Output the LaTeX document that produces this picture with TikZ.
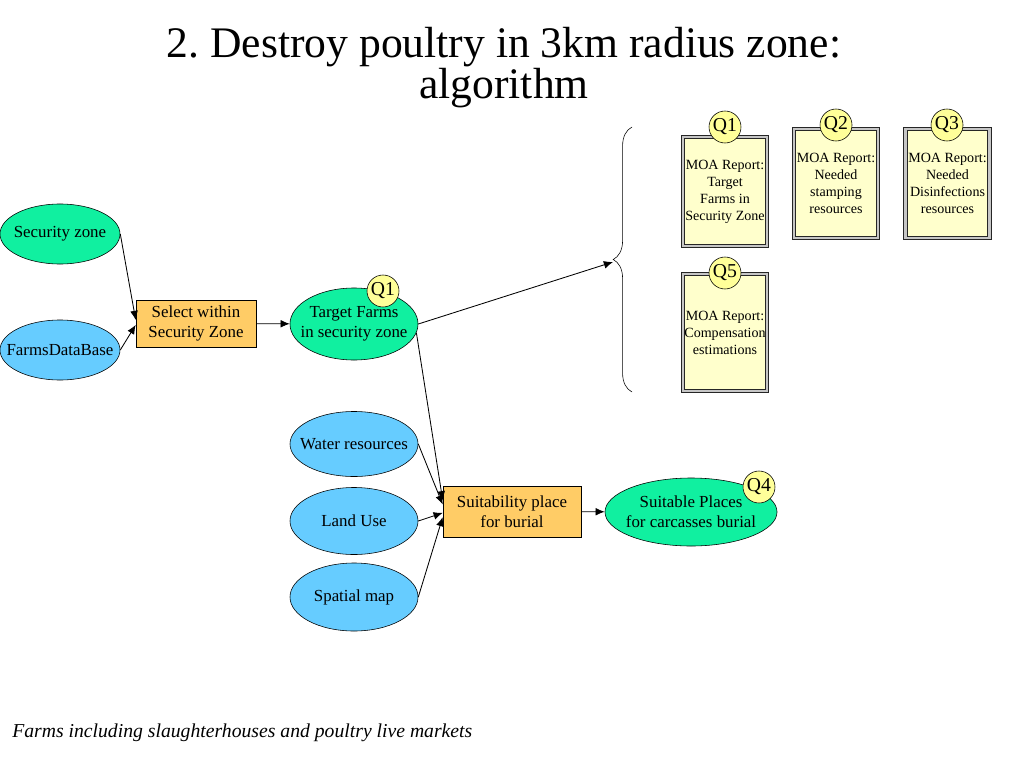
\documentclass[tikz,border=0pt]{standalone}
\usepackage{fontspec}
\setmainfont{Liberation Serif}
\frenchspacing
\usetikzlibrary{shapes.geometric,arrows.meta,decorations.pathreplacing}
\definecolor{mintgreen}{HTML}{10F0A0}
\definecolor{skyblue}{HTML}{66CCFF}
\definecolor{boxorange}{HTML}{FFCC66}
\definecolor{notepale}{HTML}{FFFFCC}
\definecolor{qyellow}{HTML}{FFFF99}
\begin{document}
\begin{tikzpicture}[x=0.025cm,y=-0.025cm,
  greenell/.style={ellipse, draw, fill=mintgreen, inner sep=-1cm, align=center, font=\fontsize{12}{14.2}\selectfont},
  blueell/.style={ellipse, draw, fill=skyblue, inner sep=-1cm, align=center, font=\fontsize{12}{14.2}\selectfont},
  procbox/.style={rectangle, draw, fill=boxorange, inner sep=0pt, align=center, font=\fontsize{12}{14.2}\selectfont},
  report/.style={rectangle, draw=black!85, line width=0.5pt, double=gray!45, double distance=2pt, fill=notepale, minimum width=2.1cm, inner sep=0pt, align=center, font=\fontsize{10}{12.1}\selectfont},
  qmark/.style={circle, draw, fill=qyellow, minimum size=0.8cm, inner sep=0pt, font=\fontsize{14}{14}\selectfont},
  link/.style={-{Latex[length=6.5pt,width=5.5pt]}, semithick}]
\useasboundingbox (0,0) rectangle (1024,768);

\node[inner sep=0pt, anchor=north, align=center, font=\fontsize{31}{25}\selectfont] (title) at (504,27){2. Destroy poultry in 3km radius zone:\\algorithm};

\node[greenell, minimum width=3cm, minimum height=1.5cm] (secz) at (60,234){Security zone};
\node[blueell, minimum width=3cm, minimum height=1.5cm] (farmdb) at (60,350){FarmsDataBase};
\node[procbox, minimum width=3cm, minimum height=1.175cm] (select) at (196,323.5){Select within\\Security Zone};
\node[greenell, minimum width=3.2cm, minimum height=1.8cm] (target) at (354,324){Target Farms\\in security zone};
\node[qmark] (q1a) at (383,291){Q1};

\draw[link](secz.east) -- ([yshift=2.5pt]select.west);
\draw[link](farmdb.east) -- ([yshift=-1pt]select.west);
\draw[link](select) -- (target);

\coordinate (btip) at (613,262);
\draw[decorate, decoration={brace, amplitude=0.47cm}] (632,392) -- (632,127);
\draw[link](target.east) -- (btip);

\node[report, minimum height=2.725cm] (rep1) at (725,191.5){MOA Report:\\Target\\Farms in\\Security Zone};
\node[report, minimum height=2.725cm] (rep2) at (836,183.5){MOA Report:\\Needed\\stamping\\resources};
\node[report, minimum height=2.725cm] (rep3) at (947.5,183.5){MOA Report:\\Needed\\Disinfections\\resources};
\node[report, minimum height=2.925cm] (rep5) at (725,332.5){MOA Report:\\Compensation\\estimations};
\node[qmark] (q1b) at (725,127){Q1};
\node[qmark] (q2) at (836,125){Q2};
\node[qmark] (q3) at (947,125){Q3};
\node[qmark] (q5) at (725,273){Q5};

\node[blueell, minimum width=3.2cm, minimum height=1.625cm] (water) at (354,444){Water resources};
\node[blueell, minimum width=3.2cm, minimum height=1.675cm] (landuse) at (354,521){Land Use};
\node[blueell, minimum width=3.2cm, minimum height=1.7cm] (spatial) at (354,597){Spatial map};
\node[procbox, minimum width=3.45cm, minimum height=1.275cm] (suit) at (512,511.5){Suitability place\\for burial};
\node[greenell, minimum width=4.3cm, minimum height=1.7cm] (places) at (691,512){Suitable Places\\for carcasses burial};
\node[qmark] (q4) at (759,487){Q4};

\draw[link](target.-8) -- ([yshift=8pt]suit.west);
\draw[link](water.east) -- ([yshift=5pt]suit.west);
\draw[link](landuse.east) -- ([yshift=-1pt]suit.west);
\draw[link](spatial.east) -- ([yshift=-4pt]suit.west);
\draw[link](suit) -- (places);

\node[inner sep=0pt, anchor=base west, font=\fontsize{14}{16}\selectfont\itshape] (note) at (12,737){Farms including slaughterhouses and poultry live markets};
\end{tikzpicture}
\end{document}
